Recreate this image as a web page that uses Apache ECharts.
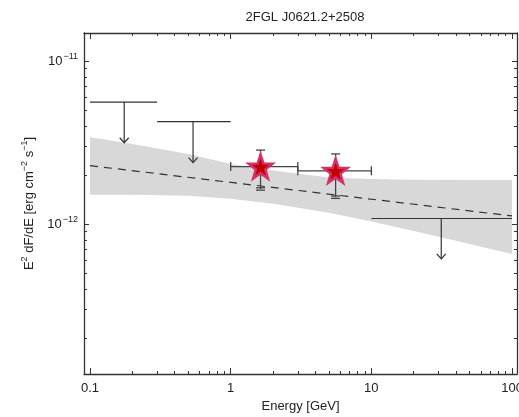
<!DOCTYPE html>
<html><head><meta charset="utf-8">
<script src="https://cdn.jsdelivr.net/npm/echarts@6/dist/echarts.min.js"></script>
<style>html,body{margin:0;padding:0;background:#fff}#c{width:519px;height:417px}</style>
</head><body><div id="c"></div>
<script>
const TITLE = '2FGL J0621.2+2508';
const X_MIN = 0.0906, X_MAX = 108.5;
const Y_MIN = 1.2e-13, Y_MAX = 1.486e-11;
const X_MAJOR = [0.1, 1, 10, 100];
const X_LABELS = ['0.1', '1', '10', '100'];
const X_MINOR = [0.2,0.3,0.4,0.5,0.6,0.7,0.8,0.9,2,3,4,5,6,7,8,9,20,30,40,50,60,70,80,90];
const Y_MAJOR = [1e-12, 1e-11];
const Y_LABELS = ['\u221212', '\u221211'];
const Y_MINOR = [2e-13,3e-13,4e-13,5e-13,6e-13,7e-13,8e-13,9e-13,2e-12,3e-12,4e-12,5e-12,6e-12,7e-12,8e-12,9e-12];

// butterfly band
const BAND_E  = [0.1, 0.2, 0.5, 1, 2, 5, 10, 20, 50, 100];
const BAND_HI = [3.40e-12, 3.10e-12, 2.69e-12, 2.33e-12, 2.13e-12, 1.93e-12, 1.89e-12, 1.87e-12, 1.86e-12, 1.86e-12];
const BAND_LO = [1.51e-12, 1.51e-12, 1.49e-12, 1.43e-12, 1.33e-12, 1.17e-12, 1.035e-12, 9.05e-13, 7.54e-13, 6.55e-13];
// best-fit power law
const FIT_E = [0.1, 100];
const FIT_V = [2.28e-12, 1.12e-12];
// flux points
const PT_E   = [1.63, 5.57];
const PT_LO  = [1.0, 3.0];
const PT_HI  = [3.0, 10.0];
const PT_VAL = [2.25e-12, 2.12e-12];
const PT_UP  = [2.84e-12, 2.69e-12];
const PT_DN  = [1.64e-12, 1.46e-12];
// upper limits
const UL_LO  = [0.1, 0.3, 10];
const UL_HI  = [0.3, 1.0, 100];
const UL_E   = [0.175, 0.54, 31.4];
const UL_VAL = [5.6e-12, 4.25e-12, 1.08e-12];
const UL_TIP = [3.15e-12, 2.38e-12, 6.1e-13];

const FONT = 'Liberation Sans';
const AX = '#333';
const STAR = 'path://M0,-10 L2.35,-3.24 L9.51,-3.09 L3.8,1.24 L5.88,8.09 L0,4 L-5.88,8.09 L-3.8,1.24 L-9.51,-3.09 L-2.35,-3.24Z';

function xAx(pos, minor, main) {
  return {
    type: 'log', position: pos, min: X_MIN, max: X_MAX, logBase: 10,
    axisLine: {show: !minor, onZero: false, lineStyle: {color: AX, width: 1.3}},
    axisTick: {show: true, inside: true, length: minor ? 3 : 6, customValues: minor ? X_MINOR : X_MAJOR, lineStyle: {color: AX, width: 1}},
    minorTick: {show: false},
    splitLine: {show: false},
    axisLabel: main ? {show: true, customValues: X_MAJOR, margin: 8, color: '#222', fontFamily: FONT, fontSize: 13,
      formatter: v => X_LABELS[Math.round(Math.log10(v)) + 1] || ''} : {show: false},
    name: main ? 'Energy [GeV]' : '', nameLocation: 'middle', nameGap: 26,
    nameTextStyle: {color: '#222', fontFamily: FONT, fontSize: 13}
  };
}
function yAx(pos, minor, main) {
  return {
    type: 'log', position: pos, min: Y_MIN, max: Y_MAX, logBase: 10,
    axisLine: {show: !minor, onZero: false, lineStyle: {color: AX, width: 1.3}},
    axisTick: {show: true, inside: true, length: minor ? 3 : 5, customValues: minor ? Y_MINOR : Y_MAJOR, lineStyle: {color: AX, width: 1}},
    minorTick: {show: false},
    splitLine: {show: false},
    axisLabel: main ? {show: true, customValues: Y_MAJOR, margin: 6, color: '#222', fontFamily: FONT, fontSize: 13,
      formatter: v => '{b|10}{s|' + (Y_LABELS[Math.round(Math.log10(v)) + 12] || '') + '}',
      rich: {b: {fontFamily: FONT, fontSize: 13, color: '#222'}, s: {fontFamily: FONT, fontSize: 9, color: '#222', padding: [0, 0, 9, 1]}}} : {show: false},
    name: main ? 'E{s|2} dF/dE [erg cm{s|\u22122} s{s|\u22121}]' : '', nameLocation: 'middle', nameGap: 46, nameRotate: 90,
    nameTextStyle: {color: '#222', fontFamily: FONT, fontSize: 13,
      rich: {s: {fontFamily: FONT, fontSize: 9, color: '#222', padding: [0, 0, 9, 0]}}}
  };
}

const chart = echarts.init(document.getElementById('c'), null, {renderer: 'canvas'});
const option = {
  animation: false,
  backgroundColor: '#fff',
  title: {text: TITLE, left: 300, top: 6, textAlign: 'center',
    textStyle: {fontFamily: FONT, fontSize: 13, fontWeight: 'normal', color: '#222'}},
  grid: {left: 84, top: 33, right: 2, bottom: 43, containLabel: false, outerBoundsMode: 'none'},
  xAxis: [xAx('bottom', false, true), xAx('bottom', true, false), xAx('top', false, false), xAx('top', true, false)],
  yAxis: [yAx('left', false, true), yAx('left', true, false), yAx('right', false, false), yAx('right', true, false)],
  series: [
    { // band
      type: 'custom', xAxisIndex: 0, yAxisIndex: 0, z: 1, silent: true,
      data: [[BAND_E[0], BAND_HI[0]]],
      renderItem: function (params, api) {
        const pts = [];
        for (let i = 0; i < BAND_E.length; i++) pts.push(api.coord([BAND_E[i], BAND_HI[i]]));
        for (let i = BAND_E.length - 1; i >= 0; i--) pts.push(api.coord([BAND_E[i], BAND_LO[i]]));
        return {type: 'polygon', shape: {points: pts}, style: {fill: '#d8d8d8', stroke: null}};
      }
    },
    { // fit
      type: 'line', xAxisIndex: 0, yAxisIndex: 0, z: 2, symbol: 'none', silent: true,
      data: FIT_E.map((e, i) => [e, FIT_V[i]]),
      lineStyle: {color: '#333', width: 1.2, type: [8, 6]}
    },
    { // upper limits
      type: 'custom', xAxisIndex: 0, yAxisIndex: 0, z: 3, silent: true,
      data: UL_E.map((e, i) => [e, UL_VAL[i], UL_LO[i], UL_HI[i], UL_TIP[i]]),
      renderItem: function (params, api) {
        const a = api.coord([api.value(2), api.value(1)]);
        const b = api.coord([api.value(3), api.value(1)]);
        const c = api.coord([api.value(0), api.value(1)]);
        const t = api.coord([api.value(0), api.value(4)]);
        const st = {stroke: '#333', lineWidth: 1.2, fill: null};
        return {type: 'group', children: [
          {type: 'line', shape: {x1: a[0], y1: a[1], x2: b[0], y2: b[1]}, style: st},
          {type: 'line', shape: {x1: c[0], y1: c[1], x2: t[0], y2: t[1]}, style: st},
          {type: 'polyline', shape: {points: [[t[0] - 4.5, t[1] - 5], [t[0], t[1]], [t[0] + 4.5, t[1] - 5]]}, style: st}
        ]};
      }
    },
    { // error bars
      type: 'custom', xAxisIndex: 0, yAxisIndex: 0, z: 4, silent: true,
      data: PT_E.map((e, i) => [e, PT_VAL[i], PT_LO[i], PT_HI[i], PT_DN[i], PT_UP[i]]),
      renderItem: function (params, api) {
        const l = api.coord([api.value(2), api.value(1)]);
        const r = api.coord([api.value(3), api.value(1)]);
        const d = api.coord([api.value(0), api.value(4)]);
        const u = api.coord([api.value(0), api.value(5)]);
        const st = {stroke: '#444', lineWidth: 1.3, fill: null};
        const w = 4.5;
        return {type: 'group', children: [
          {type: 'line', shape: {x1: l[0], y1: l[1], x2: r[0], y2: r[1]}, style: st},
          {type: 'line', shape: {x1: l[0], y1: l[1] - w, x2: l[0], y2: l[1] + w}, style: st},
          {type: 'line', shape: {x1: r[0], y1: r[1] - w, x2: r[0], y2: r[1] + w}, style: st},
          {type: 'line', shape: {x1: d[0], y1: d[1], x2: u[0], y2: u[1]}, style: st},
          {type: 'line', shape: {x1: u[0] - w, y1: u[1], x2: u[0] + w, y2: u[1]}, style: st},
          {type: 'line', shape: {x1: d[0] - w, y1: d[1] - 1.2, x2: d[0] + w, y2: d[1] - 1.2}, style: st},
          {type: 'line', shape: {x1: d[0] - w, y1: d[1] + 1.2, x2: d[0] + w, y2: d[1] + 1.2}, style: st}
        ]};
      }
    },
    { // stars
      type: 'scatter', xAxisIndex: 0, yAxisIndex: 0, z: 5, silent: true,
      symbol: STAR, symbolSize: 24,
      data: PT_E.map((e, i) => [e, PT_VAL[i]]),
      itemStyle: {color: '#c20000', borderColor: '#d4306a', borderWidth: 2.5, opacity: 1}
    }
  ]
};
chart.setOption(option);
</script>
</body></html>
